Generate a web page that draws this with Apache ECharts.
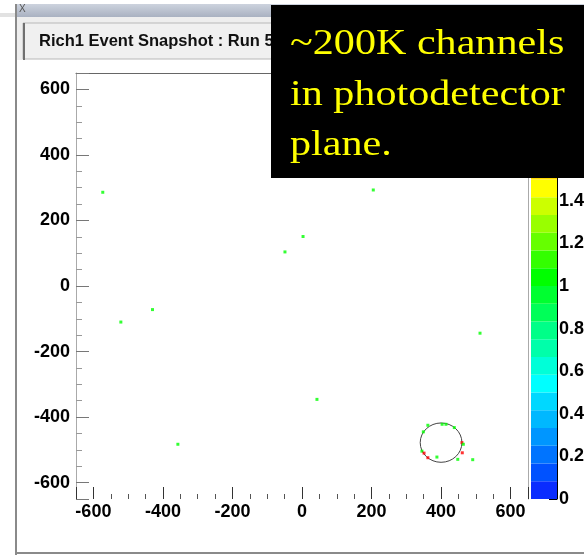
<!DOCTYPE html>
<html>
<head>
<meta charset="utf-8">
<script src="https://cdn.jsdelivr.net/npm/echarts@6/dist/echarts.min.js"></script>
<style>
  html, body { margin: 0; padding: 0; background: #fff; }
  #main { width: 584px; height: 556px; }
</style>
</head>
<body>
<div id="main"></div>
<script>
// Hits in the photodetector plane (mm) and their charge
const hitX = [-573, 205, 3, -49, -430, -521, 512, 43, -357,
              362, 349, 345, 403, 414, 438, 460, 464, 461, 448, 351, 362, 388, 491];
const hitY = [286, 293, 151, 104, -72, -110, -144, -346, -483,
              -425, -445, -504, -422, -422, -432, -478, -483, -509, -529, -510, -524, -522, -530];
const hitQ = [1, 1, 1, 1, 1, 1, 1, 1, 1,
              1, 1, 1, 1, 1, 1, 2, 1, 2, 1, 2, 2, 1, 1];

// Fitted Cherenkov ring: centre (mm) and radius (mm)
const ringX = [400];
const ringY = [-478];
const ringR = [60];

// Colour palette: contour edges and the colour of each band
const paletteLevels = [0, 0.0833, 0.1667, 0.25, 0.3333, 0.4167, 0.5, 0.5833, 0.6667, 0.75,
                       0.8333, 0.9167, 1, 1.0833, 1.1667, 1.25, 1.3333, 1.4167, 1.5, 1.5833,
                       1.6667, 1.75, 1.8333, 1.9167, 2];
const paletteColors = ['#0a2cff', '#0052ff', '#0074ff', '#0096ff', '#00b8ff', '#00d8ff',
                       '#00ffff', '#00ffd8', '#00ffaa', '#00ff88', '#00ff58', '#00ff30',
                       '#00ff00', '#33ff00', '#66ff00', '#99ff00', '#ccff00', '#ffff00',
                       '#ffd800', '#ffb400', '#ff9000', '#ff6000', '#ff3000', '#ff0000'];

const titleText = 'Rich1 Event Snapshot : Run 5';
const noteLines = ['~200K channels', 'in photodetector', 'plane.'];

const chart = echarts.init(document.getElementById('main'), null, { renderer: 'canvas' });

const axisFont = { fontFamily: 'Liberation Sans, Arial, sans-serif', fontWeight: 'bold', fontSize: 18, color: '#000' };
const noteFont = '36px Liberation Serif, Times New Roman, serif';

const pieces = paletteColors.map((c, i) => {
  const p = { gte: paletteLevels[i], color: c };
  if (i === paletteColors.length - 1) p.lte = paletteLevels[i + 1]; else p.lt = paletteLevels[i + 1];
  return p;
});

const bands = paletteColors.map((c, i) => [paletteLevels[i], paletteLevels[i + 1], i]);

const option = {
  animation: false,
  backgroundColor: '#fff',
  grid: [
    { left: 76, top: 73, width: 452, height: 426, outerBoundsMode: 'none' },
    { left: 531, top: 73, width: 26, height: 426, outerBoundsMode: 'none' }
  ],
  xAxis: [
    {
      gridIndex: 0, type: 'value', min: -650, max: 650, splitNumber: 6,
      axisLine: { show: false, onZero: false },
      axisTick: { show: true, inside: true, length: 12, lineStyle: { color: '#333' } },
      minorTick: { show: true, splitNumber: 4, length: 5, lineStyle: { color: '#555' } },
      axisLabel: Object.assign({ margin: 4, showMinLabel: false, showMaxLabel: false }, axisFont),
      splitLine: { show: false }
    },
    {
      gridIndex: 0, type: 'value', position: 'top', min: -650, max: 650,
      axisLine: { show: true, onZero: false, lineStyle: { color: '#666' } },
      axisTick: { show: false }, axisLabel: { show: false }, splitLine: { show: false }
    },
    { gridIndex: 1, type: 'value', min: 0, max: 1, show: false }
  ],
  yAxis: [
    {
      gridIndex: 0, type: 'value', min: -650, max: 650, splitNumber: 6,
      axisLine: { show: true, onZero: false, lineStyle: { color: '#aaa' } },
      axisTick: { show: true, inside: true, length: 13, lineStyle: { color: '#777' } },
      minorTick: { show: true, splitNumber: 4, length: 6, lineStyle: { color: '#999' } },
      axisLabel: Object.assign({ margin: 6, showMinLabel: false, showMaxLabel: false }, axisFont),
      splitLine: { show: false }
    },
    {
      gridIndex: 0, type: 'value', position: 'right', min: -650, max: 650,
      axisLine: { show: true, onZero: false, lineStyle: { color: '#aaa' } },
      axisTick: { show: false }, axisLabel: { show: false }, splitLine: { show: false }
    },
    {
      gridIndex: 1, type: 'value', position: 'right', min: 0, max: 2, interval: 0.2,
      axisLine: { show: true, onZero: false, lineStyle: { color: '#000' } },
      axisTick: { show: true, inside: true, length: 8, lineStyle: { color: '#000' } },
      axisLabel: Object.assign({ margin: 2 }, axisFont),
      splitLine: { show: false }
    }
  ],
  visualMap: {
    type: 'piecewise', show: false, seriesIndex: 0, dimension: 2, pieces: pieces
  },
  series: [
    {
      type: 'scatter', xAxisIndex: 0, yAxisIndex: 0,
      symbol: 'rect', symbolSize: 3, z: 4,
      data: hitX.map((x, i) => [x, hitY[i], hitQ[i]])
    },
    {
      type: 'custom', xAxisIndex: 0, yAxisIndex: 0, z: 3,
      data: ringX.map((x, i) => [x, ringY[i], ringR[i]]),
      renderItem: function (params, api) {
        const c = api.coord([api.value(0), api.value(1)]);
        const s = api.size([api.value(2), api.value(2)]);
        return {
          type: 'ellipse',
          shape: { cx: c[0], cy: c[1], rx: s[0], ry: s[1] },
          style: { fill: 'none', stroke: '#444', lineWidth: 1 }
        };
      }
    },
    {
      type: 'custom', xAxisIndex: 2, yAxisIndex: 2, z: 2,
      data: bands,
      renderItem: function (params, api) {
        const lo = api.coord([0, api.value(0)]);
        const hi = api.coord([0, api.value(1)]);
        const cs = params.coordSys;
        return {
          type: 'rect',
          shape: { x: cs.x, y: hi[1], width: cs.width, height: lo[1] - hi[1] },
          style: { fill: paletteColors[api.value(2)], stroke: null }
        };
      }
    }
  ],
  graphic: [
    // outer strip left of the window
    { type: 'rect', z: 1, shape: { x: 0, y: 13, width: 15, height: 4 }, style: { fill: '#e2e2e2' } },
    // window title bar
    { type: 'rect', z: 1, shape: { x: 15, y: 4, width: 569, height: 13 },
      style: { fill: new echarts.graphic.LinearGradient(0, 0, 0, 1, [
        { offset: 0, color: '#cdd3de' }, { offset: 1, color: '#a9b1c1' }]) } },
    { type: 'text', z: 2, x: 19, y: 4,
      style: { text: 'X', fill: '#555', font: '10px Liberation Sans, Arial, sans-serif' } },
    // strip under the title bar
    { type: 'rect', z: 1, shape: { x: 17, y: 17, width: 567, height: 6 }, style: { fill: '#eeeeee' } },
    { type: 'rect', z: 1, shape: { x: 17, y: 17, width: 6, height: 43 }, style: { fill: '#eeeeee' } },
    // canvas title box
    { type: 'rect', z: 1, shape: { x: 23, y: 23, width: 300, height: 36 },
      style: { fill: '#f0f0f0', stroke: '#b8b8b8', lineWidth: 1 } },
    { type: 'rect', z: 2, shape: { x: 23, y: 23, width: 2, height: 37 }, style: { fill: '#707070' } },
    { type: 'text', z: 3, x: 39, y: 41,
      style: { text: titleText, fill: '#111', verticalAlign: 'middle',
               font: 'bold 16.5px Liberation Sans, Arial, sans-serif' } },
    // window borders
    { type: 'rect', z: 5, shape: { x: 15, y: 4, width: 2, height: 551 }, style: { fill: '#8a8a8a' } },
    { type: 'rect', z: 5, shape: { x: 15, y: 552, width: 569, height: 2 }, style: { fill: '#8a8a8a' } },
    // annotation box
    { type: 'rect', z: 100, shape: { x: 271, y: 5, width: 313, height: 173 }, style: { fill: '#000' } },
    { type: 'text', z: 101, x: 290, y: 44.5, scaleX: 1.17,
      style: { text: noteLines[0], fill: '#ffff00', verticalAlign: 'middle', font: noteFont } },
    { type: 'text', z: 101, x: 290, y: 95.5, scaleX: 1.17,
      style: { text: noteLines[1], fill: '#ffff00', verticalAlign: 'middle', font: noteFont } },
    { type: 'text', z: 101, x: 290, y: 146, scaleX: 1.17,
      style: { text: noteLines[2], fill: '#ffff00', verticalAlign: 'middle', font: noteFont } }
  ]
};

chart.setOption(option);
</script>
</body>
</html>
